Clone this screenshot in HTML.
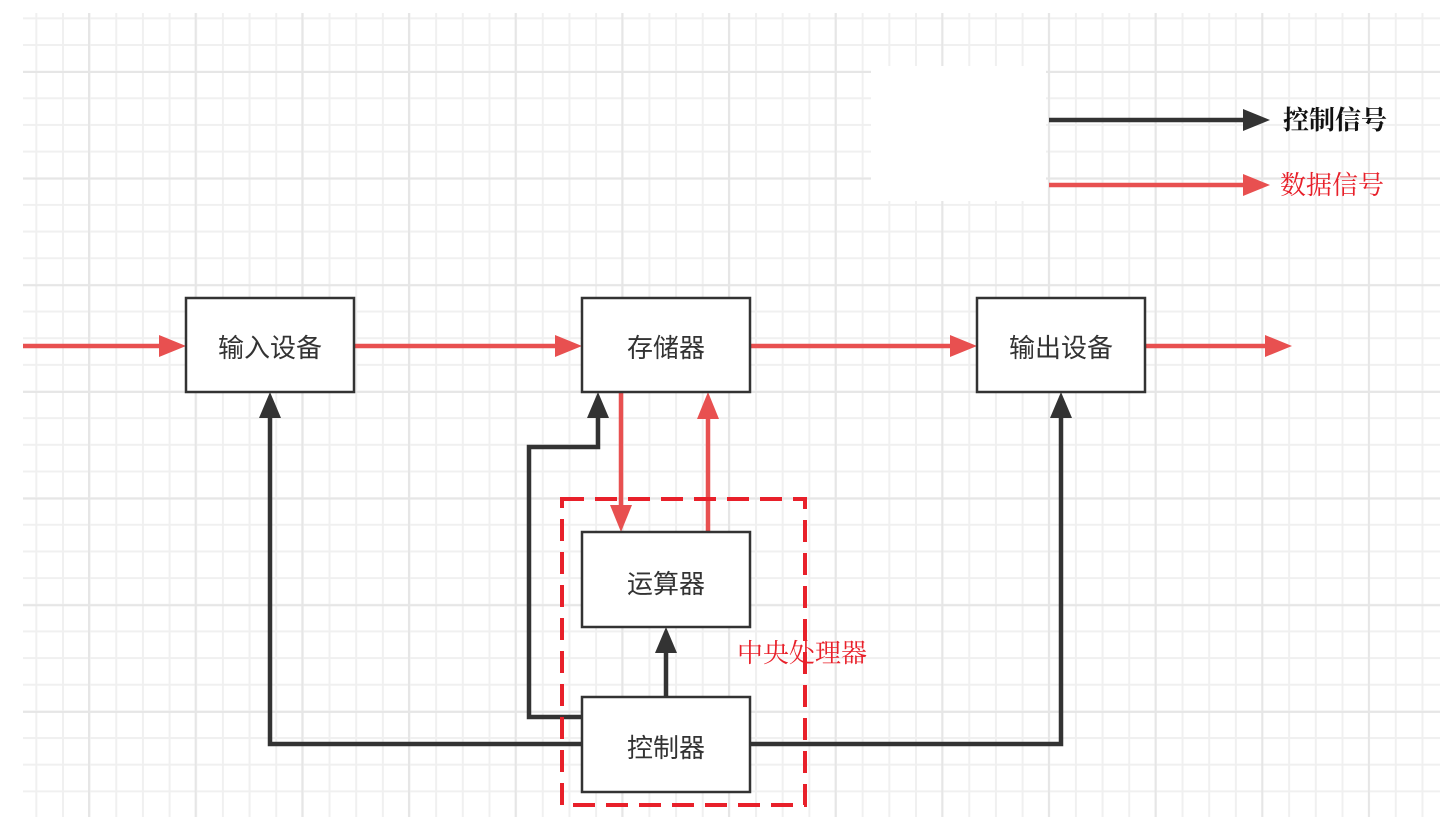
<!DOCTYPE html>
<html><head><meta charset="utf-8"><style>
html,body{margin:0;padding:0;background:#fff;width:1440px;height:839px;overflow:hidden}
#grid{position:absolute;left:23px;top:13px;width:1417px;height:804px;
background-image:
linear-gradient(to right,#e6e6e6 0,#e6e6e6 2px,transparent 2px),
linear-gradient(to bottom,#e6e6e6 0,#e6e6e6 2px,transparent 2px),
linear-gradient(to right,#f0f0f0 0,#f0f0f0 2px,transparent 2px),
linear-gradient(to bottom,#f0f0f0 0,#f0f0f0 2px,transparent 2px);
background-size:106.667px 100%,100% 106.667px,26.667px 100%,100% 26.667px;
background-position:65px 0,0 58px,12.33px 0,0 4.33px;}
</style></head><body>
<div id="grid"></div>
<svg width="1440" height="839" xmlns="http://www.w3.org/2000/svg" style="position:absolute;left:0;top:0">
<rect x="871" y="66" width="175" height="135" fill="#fff"/>
<g stroke="#333" stroke-width="4.5" fill="none">
<path d="M582 744H270V415"/>
<path d="M582 717H529V447H598V415"/>
<path d="M666 697V650"/>
<path d="M750 744H1061V415"/>
<path d="M1049 120H1245"/>
</g>
<g fill="#333">
<path d="M259 418L270 392L281 418Z"/>
<path d="M587 418L598 392L609 418Z"/>
<path d="M655 653L666 627L677 653Z"/>
<path d="M1050 418L1061 392L1072 418Z"/>
<path d="M1243 109L1270 120L1243 131Z"/>
</g>
<g stroke="#e85050" stroke-width="4.5" fill="none">
<path d="M23 346H162"/>
<path d="M354 346H558"/>
<path d="M750 346H953"/>
<path d="M1145 346H1268"/>
<path d="M621 392V508"/>
<path d="M708 532V416"/>
<path d="M1049 185H1245"/>
</g>
<g fill="#e85050">
<path d="M159 335L186 346L159 357Z"/>
<path d="M555 335L582 346L555 357Z"/>
<path d="M950 335L977 346L950 357Z"/>
<path d="M1265 335L1292 346L1265 357Z"/>
<path d="M610 505L621 532L632 505Z"/>
<path d="M697 419L708 392L719 419Z"/>
<path d="M1243 174L1270 185L1243 196Z"/>
</g>
<g fill="#fff" stroke="#333" stroke-width="2.5">
<rect x="186" y="298" width="168" height="94"/>
<rect x="582" y="298" width="168" height="94"/>
<rect x="977" y="298" width="168" height="94"/>
<rect x="582" y="532" width="168" height="95"/>
<rect x="582" y="697" width="168" height="95"/>
</g>
<rect x="562" y="499" width="243" height="306" fill="none" stroke="#e8202a" stroke-width="4" stroke-dasharray="22,11"/>
<g style="font-family:'Liberation Sans','Noto Sans CJK SC',sans-serif" font-size="26" fill="#333" text-anchor="middle">
<text x="270" y="357">输入设备</text>
<text x="666" y="357">存储器</text>
<text x="1061" y="357">输出设备</text>
<text x="666" y="593">运算器</text>
<text x="666" y="757">控制器</text>
</g>
<g style="font-family:'Liberation Serif','Noto Serif CJK SC',serif" font-size="26">
<text x="1283" y="129" fill="#111" font-weight="bold">控制信号</text>
<text x="1280" y="194" fill="#e8202a">数据信号</text>
<text x="737" y="662" fill="#e8202a">中央处理器</text>
</g>
</svg>
</body></html>
